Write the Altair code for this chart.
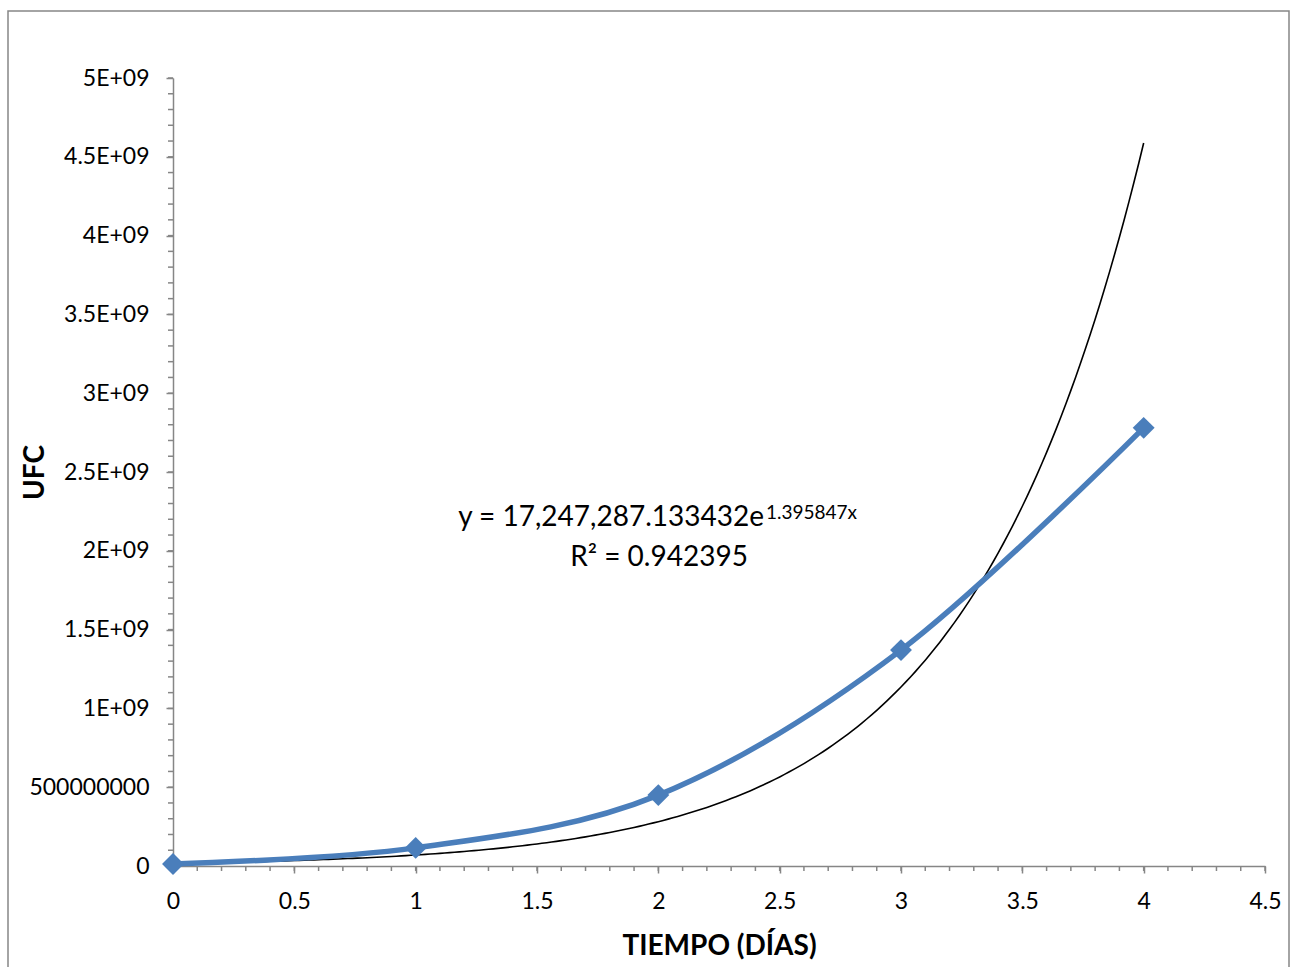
import altair as alt
import pandas as pd

# ---- data ----
dias = [0, 1, 2, 3, 4]
ufc = [1.3e7, 1.15e8, 4.5e8, 1.37e9, 2.78e9]

# exponential trendline shown on the chart
trend_a = 17247287.133432
trend_b = 1.395847
eq_main = "y = 17,247,287.133432e"
eq_sup = "1.395847x"
eq_r2 = "R² = 0.942395"

y_tick_values = [0, 5e8, 1e9, 1.5e9, 2e9, 2.5e9, 3e9, 3.5e9, 4e9, 4.5e9, 5e9]
y_tick_labels = ["0", "500000000", "1E+09", "1.5E+09", "2E+09", "2.5E+09",
                 "3E+09", "3.5E+09", "4E+09", "4.5E+09", "5E+09"]
x_tick_values = [0, 0.5, 1, 1.5, 2, 2.5, 3, 3.5, 4, 4.5]
x_tick_labels = ["0", "0.5", "1", "1.5", "2", "2.5", "3", "3.5", "4", "4.5"]
y_minor = [i * 1e8 for i in range(51)]
x_minor = [round(i * 0.1, 1) for i in range(46)]

FONT = "Lato"
GRAY = "#868686"
BLUE = "#4A7EBB"
W, H = 1092, 788


def label_expr(values, labels):
    expr = "''"
    for v, l in reversed(list(zip(values, labels))):
        expr = f"abs(datum.value - {v}) < 1e-6 * (1 + abs({v})) ? '{l}' : ({expr})"
    return expr


df = pd.DataFrame({"x": dias, "y": ufc})

x_scale = alt.Scale(domain=[0, 4.5], nice=False, zero=False)
y_scale = alt.Scale(domain=[0, 5e9], nice=False)

x_axis = alt.Axis(values=x_tick_values, labelExpr=label_expr(x_tick_values, x_tick_labels),
                  orient="bottom", grid=False, domainColor=GRAY, domainWidth=1.5,
                  tickColor=GRAY, tickWidth=1.5, tickSize=7,
                  labelFont=FONT, labelFontSize=23, labelColor="black", labelPadding=17,
                  labelFlush=False, labelOverlap=False,
                  title="TIEMPO (DÍAS)", titleFont=FONT, titleFontSize=28,
                  titleFontWeight="bold", titleColor="black",
                  titleBaseline="alphabetic", titleY=88)
y_axis = alt.Axis(values=y_tick_values, labelExpr=label_expr(y_tick_values, y_tick_labels),
                  orient="left", grid=False, domainColor=GRAY, domainWidth=1.5,
                  tickColor=GRAY, tickWidth=1.5, tickSize=7,
                  labelFont=FONT, labelFontSize=23, labelColor="black", labelPadding=17,
                  labelFlush=False, labelOverlap=False,
                  title="UFC", titleFont=FONT, titleFontSize=28,
                  titleFontWeight="bold", titleColor="black",
                  titleBaseline="alphabetic", titleX=-130)

frame = alt.Chart(pd.DataFrame({"a": [0]})).mark_rect(
    filled=False, stroke=GRAY, strokeWidth=1.5
).encode(x=alt.value(-165), x2=alt.value(1116), y=alt.value(-67), y2=alt.value(900))

trend = alt.Chart(alt.sequence(0, 4.0001, 0.02, as_="x")).transform_calculate(
    y=f"{trend_a} * exp({trend_b} * datum.x)"
).mark_line(color="black", strokeWidth=1.6).encode(
    x=alt.X("x:Q", scale=x_scale, axis=x_axis),
    y=alt.Y("y:Q", scale=y_scale, axis=y_axis),
)

x_minor_ticks = alt.Chart(pd.DataFrame({"x": x_minor})).mark_rule(
    color=GRAY, strokeWidth=1.5
).encode(x=alt.X("x:Q", scale=x_scale), y=alt.value(H), y2=alt.value(H + 5))

y_minor_ticks = alt.Chart(pd.DataFrame({"y": y_minor})).mark_rule(
    color=GRAY, strokeWidth=1.5
).encode(y=alt.Y("y:Q", scale=y_scale), x=alt.value(0), x2=alt.value(-5))

line = alt.Chart(df).mark_line(color=BLUE, strokeWidth=5.5, interpolate="cardinal").encode(
    x=alt.X("x:Q", scale=x_scale),
    y=alt.Y("y:Q", scale=y_scale),
)

points = alt.Chart(df).mark_point(shape="diamond", filled=True, size=480, color=BLUE,
                                  opacity=1).encode(
    x=alt.X("x:Q", scale=x_scale),
    y=alt.Y("y:Q", scale=y_scale),
)

txt_main = alt.Chart(pd.DataFrame({"t": [eq_main]})).mark_text(
    font=FONT, fontSize=28, align="right", baseline="alphabetic", color="black"
).encode(text="t:N", x=alt.value(591), y=alt.value(448))

txt_sup = alt.Chart(pd.DataFrame({"t": [eq_sup]})).mark_text(
    font=FONT, fontSize=19, align="left", baseline="alphabetic", color="black"
).encode(text="t:N", x=alt.value(593), y=alt.value(441))

txt_r2 = alt.Chart(pd.DataFrame({"t": [eq_r2]})).mark_text(
    font=FONT, fontSize=28, align="center", baseline="alphabetic", color="black"
).encode(text="t:N", x=alt.value(486), y=alt.value(488))

chart = alt.layer(
    frame, trend, x_minor_ticks, y_minor_ticks, line, points, txt_main, txt_sup, txt_r2
).properties(
    width=W, height=H,
    autosize=alt.AutoSizeParams(type="none"),
    padding={"left": 173, "top": 78, "right": 26, "bottom": 101},
).configure(background="white").configure_view(strokeWidth=0, stroke="transparent")

chart.save("out.html", embed_options={"renderer": "svg", "actions": False})
